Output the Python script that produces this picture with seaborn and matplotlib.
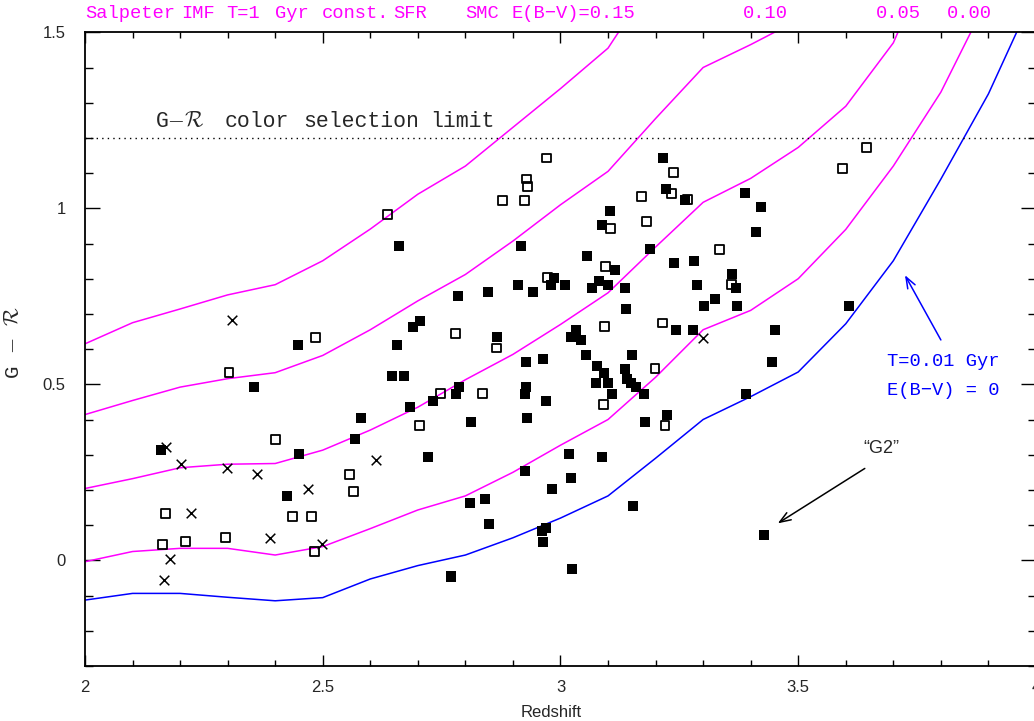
import matplotlib.pyplot as plt
import seaborn as sns
import pandas as pd
from matplotlib.ticker import MultipleLocator

# grade de redshift dos modelos (nos de 0.1 em 0.1)
z_modelo = [2.0, 2.1, 2.2, 2.3, 2.4, 2.5, 2.6, 2.7, 2.8, 2.9, 3.0,
            3.1, 3.2, 3.3, 3.4, 3.5, 3.6, 3.7, 3.8, 3.9, 4.0]

# Salpeter IMF, T=1 Gyr, SFR constante, poeira SMC
gr_ebv_015 = [0.615, 0.675, 0.714, 0.754, 0.783, 0.851, 0.941, 1.04, 1.12, 1.23, 1.34,
              1.455, 1.66]
gr_ebv_010 = [0.414, 0.454, 0.492, 0.516, 0.533, 0.582, 0.655, 0.737, 0.812, 0.907, 1.01,
              1.105, 1.255, 1.40, 1.465, 1.535, 1.62]
gr_ebv_005 = [0.204, 0.232, 0.263, 0.273, 0.275, 0.313, 0.37, 0.435, 0.513, 0.585, 0.67,
              0.76, 0.89, 1.017, 1.085, 1.173, 1.29, 1.47, 1.78]
gr_ebv_000 = [-0.004, 0.025, 0.034, 0.034, 0.015, 0.039, 0.09, 0.143, 0.183, 0.25, 0.327,
              0.40, 0.52, 0.655, 0.71, 0.80, 0.94, 1.12, 1.33, 1.60]
# T=0.01 Gyr, E(B-V)=0
gr_jovem = [-0.113, -0.094, -0.094, -0.105, -0.115, -0.106, -0.053, -0.015, 0.015, 0.064, 0.12,
            0.183, 0.29, 0.40, 0.465, 0.535, 0.672, 0.851, 1.083, 1.325, 1.62]

# galaxias - quadrados cheios
cheio_z = [2.661, 2.449, 2.656, 2.355, 2.645, 2.670, 2.580, 2.568, 2.159, 2.450, 2.425,
           3.215, 3.221, 3.262, 3.105, 3.087, 2.918, 3.188, 3.056, 3.238, 3.281, 3.115,
           2.987, 2.980, 3.009, 2.910, 2.942, 2.847, 2.784, 3.081, 3.066, 3.100, 3.136,
           3.288, 3.138, 2.704, 2.689, 2.866, 3.032, 3.022, 3.043, 3.242, 3.279, 3.054,
           3.151, 2.928, 2.963, 3.077, 3.092, 3.136, 3.140, 3.149, 3.159, 3.075, 3.099,
           3.109, 3.175, 2.787, 2.780, 2.731, 2.683, 2.928, 2.926, 2.969, 2.811, 2.930,
           3.177, 3.223, 2.721, 3.018, 3.088, 2.926, 3.022, 2.982, 2.841, 2.810, 3.153,
           2.850, 2.970, 2.961, 2.964, 2.770, 3.025, 3.388, 3.422, 3.411, 3.360, 3.369,
           3.325, 3.301, 3.371, 3.606, 3.451, 3.445, 3.391, 3.428]
cheio_gr = [0.893, 0.613, 0.613, 0.492, 0.524, 0.524, 0.405, 0.346, 0.314, 0.303, 0.183,
            1.142, 1.055, 1.024, 0.991, 0.953, 0.894, 0.885, 0.864, 0.845, 0.851, 0.824,
            0.802, 0.781, 0.781, 0.781, 0.762, 0.762, 0.752, 0.793, 0.773, 0.781, 0.773,
            0.783, 0.714, 0.681, 0.663, 0.634, 0.655, 0.634, 0.625, 0.655, 0.655, 0.584,
            0.584, 0.563, 0.573, 0.552, 0.532, 0.544, 0.516, 0.505, 0.492, 0.504, 0.504,
            0.473, 0.473, 0.492, 0.473, 0.453, 0.435, 0.492, 0.473, 0.453, 0.393, 0.405,
            0.393, 0.414, 0.294, 0.303, 0.294, 0.254, 0.234, 0.203, 0.175, 0.164, 0.155,
            0.104, 0.093, 0.083, 0.053, -0.046, -0.026, 1.043, 1.003, 0.932, 0.813, 0.773,
            0.742, 0.722, 0.722, 0.722, 0.654, 0.563, 0.473, 0.072]

# quadrados vazios
vazio_z = [2.636, 2.485, 2.303, 2.400, 2.556, 2.565, 2.170, 2.437, 2.477, 2.163, 2.211,
           2.295, 2.483, 2.971, 2.929, 2.931, 2.878, 2.925, 3.237, 3.234, 3.267, 3.170,
           3.106, 3.181, 3.095, 2.972, 2.779, 2.866, 3.092, 3.215, 3.199, 2.748, 2.836,
           3.091, 2.703, 3.220, 3.643, 3.593, 3.334, 3.360]
vazio_gr = [0.982, 0.632, 0.534, 0.344, 0.244, 0.195, 0.134, 0.124, 0.124, 0.044, 0.054,
            0.064, 0.025, 1.143, 1.083, 1.062, 1.023, 1.023, 1.102, 1.043, 1.024, 1.033,
            0.943, 0.963, 0.834, 0.804, 0.644, 0.603, 0.664, 0.674, 0.544, 0.473, 0.473,
            0.443, 0.384, 0.384, 1.173, 1.113, 0.883, 0.783]

# cruzes
cruz_z = [2.310, 2.170, 2.202, 2.299, 2.361, 2.612, 2.470, 2.223, 2.390, 2.499, 2.179,
          2.166, 3.299]
cruz_gr = [0.683, 0.322, 0.273, 0.263, 0.244, 0.284, 0.204, 0.134, 0.064, 0.045, 0.004,
           -0.056, 0.632]

# rotulos do topo (palavra, posicao esquerda em z)
topo_palavras = ['Salpeter', 'IMF', 'T=1', 'Gyr', 'const.', 'SFR', 'SMC', 'E(B\u2212V)=0.15']
topo_z = [2.000, 2.203, 2.298, 2.400, 2.498, 2.648, 2.799, 2.898]
ebv_rotulos = ['0.10', '0.05', '0.00']
ebv_rotulos_z = [3.431, 3.710, 3.861]

# texto do limite de selecao
limite_palavras = [r'G$-\mathcal{R}$', 'color', 'selection', 'limit']
limite_z = [2.147, 2.294, 2.458, 2.726]

magenta = '#ff00ff'
azul = '#0000ff'
mono = ['Liberation Mono', 'DejaVu Sans Mono']

curvas = [(gr_ebv_015, magenta), (gr_ebv_010, magenta), (gr_ebv_005, magenta),
          (gr_ebv_000, magenta), (gr_jovem, azul)]

sns.set_style('ticks')
plt.rcParams['font.family'] = ['Liberation Sans', 'DejaVu Sans']
plt.rcParams['mathtext.fontset'] = 'cm'

fig = plt.figure(figsize=(10.34, 7.21), dpi=100)
ax = fig.add_axes([0.0822, 0.0764, 0.9197, 0.8788])

for valores, cor in curvas:
    df_c = pd.DataFrame({'z': z_modelo[:len(valores)], 'gr': valores})
    sns.lineplot(data=df_c, x='z', y='gr', color=cor, lw=1.1, estimator=None,
                 sort=False, ax=ax)

ax.axhline(1.2, color='black', lw=1.0, ls=(0, (1, 3)))

df_cheio = pd.DataFrame({'z': cheio_z, 'gr': cheio_gr})
df_vazio = pd.DataFrame({'z': vazio_z, 'gr': vazio_gr})
df_cruz = pd.DataFrame({'z': cruz_z, 'gr': cruz_gr})

sns.scatterplot(data=df_cheio, x='z', y='gr', marker='s', s=52, color='black',
                edgecolor='none', ax=ax, zorder=3)
sns.scatterplot(data=df_vazio, x='z', y='gr', marker='s', s=40, color='black',
                facecolor='none', edgecolor='black', linewidth=1.3, ax=ax, zorder=3)
sns.scatterplot(data=df_cruz, x='z', y='gr', marker='x', s=48, color='black',
                linewidth=1.1, ax=ax, zorder=3)

ax.set_xlim(2, 4)
ax.set_ylim(-0.3, 1.5)
ax.xaxis.set_minor_locator(MultipleLocator(0.1))
ax.yaxis.set_minor_locator(MultipleLocator(0.1))
ax.set_xticks([2, 2.5, 3, 3.5, 4], ['2', '2.5', '3', '3.5', '4'])
ax.set_yticks([0, 0.5, 1, 1.5], ['0', '0.5', '1', '1.5'])
ax.tick_params(which='both', direction='in', top=True, right=True, width=1.0,
               labelsize=12, color='black')
ax.tick_params(axis='x', which='major', length=8, pad=10)
ax.tick_params(axis='x', which='minor', length=4.3)
ax.tick_params(axis='y', which='major', length=11, pad=14)
ax.tick_params(axis='y', which='minor', length=5.5)
for sp in ax.spines.values():
    sp.set_linewidth(1.3)
    sp.set_color('black')

ax.set_xlabel('Redshift', fontsize=12)
ax.xaxis.set_label_coords(0.49, -0.062)
ax.set_ylabel(r'G $-$ $\mathcal{R}$', fontsize=15, family=mono)
ax.yaxis.set_label_coords(-0.065, 0.51)

# textos do topo
trans = ax.get_xaxis_transform()
for palavra, zt in zip(topo_palavras, topo_z):
    ax.text(zt, 1.029, palavra, transform=trans, color=magenta, family=mono,
            fontsize=13.5, ha='left', va='center')
for rot, zt in zip(ebv_rotulos, ebv_rotulos_z):
    ax.text(zt, 1.029, rot, transform=trans, color=magenta, family=mono,
            fontsize=13.5, ha='center', va='center')

for palavra, zt in zip(limite_palavras, limite_z):
    ax.text(zt, 1.248, palavra, family=mono, fontsize=15.5, ha='left', va='center')

ax.text(3.687, 0.564, 'T=0.01 Gyr', color=azul, family=mono, fontsize=13.5,
        ha='left', va='center')
ax.text(3.687, 0.481, 'E(B\u2212V) = 0', color=azul, family=mono, fontsize=13.5,
        ha='left', va='center')
ax.annotate('', xy=(3.7245, 0.810), xytext=(3.800, 0.626),
            arrowprops=dict(arrowstyle='->,head_length=0.8,head_width=0.3', color=azul,
                            lw=1.1, shrinkA=0, shrinkB=0))

ax.text(3.675, 0.318, '\u201cG2\u201d', fontsize=13, ha='center', va='center')
ax.annotate('', xy=(3.457, 0.105), xytext=(3.640, 0.261),
            arrowprops=dict(arrowstyle='->,head_length=0.8,head_width=0.3', color='black',
                            lw=1.1, shrinkA=0, shrinkB=0))

fig.savefig('out.png', dpi=100)
